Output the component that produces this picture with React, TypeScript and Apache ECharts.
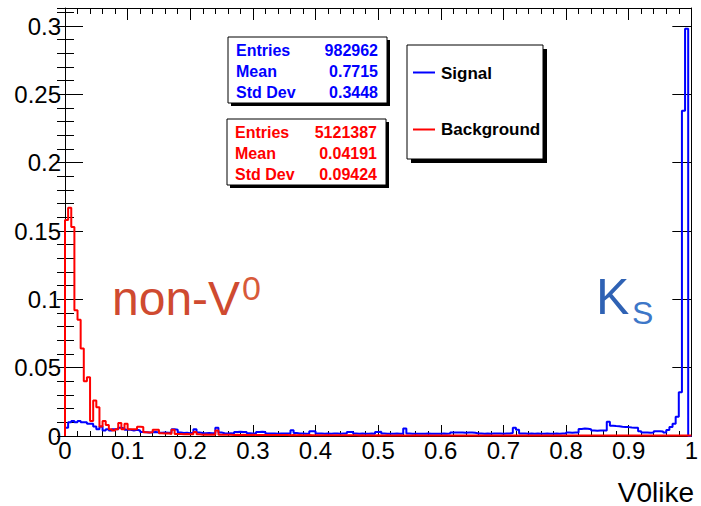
import React, { useEffect, useRef } from "react";
import * as echarts from "echarts";

// ---- Data ----
const X_MIN = 0;
const X_MAX = 1;
const NBINS = 200;
const Y_MAX = 0.3132;

const xTickLabels = ["0", "0.1", "0.2", "0.3", "0.4", "0.5", "0.6", "0.7", "0.8", "0.9", "1"];
const yTickLabels = ["0", "0.05", "0.1", "0.15", "0.2", "0.25", "0.3"];

// Signal (K_S), normalised, 200 bins on [0,1]
const signalValues = [
  0.006, 0.010, 0.011, 0.010, 0.011, 0.010, 0.010, 0.009, 0.009, 0.007,
  0.005, 0.007, 0.004, 0.005, 0.004, 0.005, 0.005, 0.006, 0.0055, 0.0045,
  0.0045, 0.004, 0.0045, 0.004, 0.003, 0.0028, 0.0025, 0.0027, 0.003, 0.0026,
  0.0024, 0.0025, 0.0023, 0.0025, 0.005, 0.0045, 0.0025, 0.0022, 0.0024, 0.0021,
  0.0023, 0.005, 0.0025, 0.0022, 0.002, 0.0022, 0.0021, 0.002, 0.006, 0.0025,
  0.002, 0.0019, 0.0021, 0.0019, 0.003, 0.0031, 0.003, 0.0029, 0.002, 0.0019,
  0.0018, 0.003, 0.0031, 0.0029, 0.0019, 0.0018, 0.0019, 0.0017, 0.0018, 0.0019,
  0.0018, 0.0019, 0.0042, 0.0022, 0.0019, 0.0018, 0.0017, 0.0018, 0.0035, 0.0034,
  0.0019, 0.0018, 0.0017, 0.0018, 0.0017, 0.0019, 0.0018, 0.0017, 0.0018, 0.0019,
  0.003, 0.0029, 0.0018, 0.0017, 0.0018, 0.0017, 0.0016, 0.0018, 0.0017, 0.003,
  0.0031, 0.0018, 0.0017, 0.0016, 0.0017, 0.0018, 0.0016, 0.0017, 0.0055, 0.0018,
  0.0017, 0.0016, 0.0017, 0.0016, 0.0017, 0.0018, 0.0016, 0.0017, 0.0016, 0.0017,
  0.0018, 0.0017, 0.0019, 0.0025, 0.0026, 0.0025, 0.0026, 0.0024, 0.0025, 0.0026,
  0.0024, 0.0019, 0.0018, 0.0017, 0.0018, 0.0017, 0.0018, 0.0019, 0.0018, 0.0017,
  0.0018, 0.0019, 0.0022, 0.006, 0.0045, 0.0019, 0.0018, 0.0017, 0.0018, 0.0017,
  0.0018, 0.0017, 0.0017, 0.0018, 0.0016, 0.0017, 0.0018, 0.0017, 0.0018, 0.0019,
  0.0025, 0.0024, 0.0026, 0.0025, 0.0052, 0.0055, 0.0053, 0.005, 0.004, 0.0039,
  0.0041, 0.004, 0.0041, 0.0105, 0.0075, 0.0073, 0.0072, 0.0067, 0.0066, 0.0065,
  0.0062, 0.006, 0.0061, 0.0034, 0.0026, 0.0025, 0.0024, 0.0026, 0.0034, 0.0035,
  0.0033, 0.0025, 0.0044, 0.0066, 0.009, 0.014, 0.032, 0.238, 0.298, 0.0,
];

// Background (non-V0), normalised, 200 bins on [0,1]
const backgroundValues = [
  0.158, 0.167, 0.153, 0.092, 0.085, 0.064, 0.040, 0.043, 0.011, 0.026,
  0.021, 0.007, 0.011, 0.008, 0.005, 0.004, 0.005, 0.0095, 0.005, 0.009,
  0.005, 0.005, 0.005, 0.0067, 0.0065, 0.0027, 0.0025, 0.0028, 0.0045, 0.0045,
  0.002, 0.0018, 0.002, 0.0015, 0.0045, 0.0015, 0.0014, 0.0013, 0.0014, 0.0012,
  0.0013, 0.003, 0.0012, 0.001, 0.0011, 0.001, 0.0011, 0.001, 0.004, 0.001,
  0.0009, 0.001, 0.0009, 0.0008, 0.0009, 0.0008, 0.0009, 0.0008, 0.0008, 0.0009,
  0.0008, 0.0007, 0.0008, 0.0007, 0.0008, 0.0007, 0.0007, 0.0008, 0.0007, 0.0007,
  0.0007, 0.0006, 0.0007, 0.0006, 0.0007, 0.0006, 0.0006, 0.0007, 0.0006, 0.0006,
  0.0006, 0.0006, 0.0005, 0.0006, 0.0005, 0.0006, 0.0005, 0.0005, 0.0006, 0.0005,
  0.0005, 0.0005, 0.0005, 0.0004, 0.0005, 0.0004, 0.0005, 0.0004, 0.0004, 0.0005,
  0.0004, 0.0004, 0.0005, 0.0004, 0.0004, 0.0004, 0.0005, 0.0004, 0.0004, 0.0004,
  0.0004, 0.0005, 0.0004, 0.0004, 0.0004, 0.0004, 0.0003, 0.0004, 0.0004, 0.0004,
  0.0004, 0.0004, 0.0003, 0.0004, 0.0004, 0.0003, 0.0004, 0.0004, 0.0004, 0.0003,
  0.0004, 0.0003, 0.0004, 0.0004, 0.0003, 0.0004, 0.0003, 0.0004, 0.0003, 0.0004,
  0.0003, 0.0004, 0.0003, 0.0003, 0.0004, 0.0003, 0.0003, 0.0004, 0.0003, 0.0003,
  0.0003, 0.0004, 0.0003, 0.0003, 0.0003, 0.0004, 0.0003, 0.0003, 0.0003, 0.0003,
  0.0003, 0.0003, 0.0004, 0.0003, 0.0003, 0.0003, 0.0003, 0.0003, 0.0004, 0.0003,
  0.0003, 0.0003, 0.0003, 0.0003, 0.0003, 0.0003, 0.0003, 0.0003, 0.0003, 0.0003,
  0.0003, 0.0003, 0.0003, 0.0003, 0.0003, 0.0003, 0.0003, 0.0003, 0.0003, 0.0003,
  0.0003, 0.0003, 0.0003, 0.0003, 0.0003, 0.0003, 0.0003, 0.0003, 0.0003, 0.0003,
];

const seriesNames = ["Signal", "Background"];
const statLabels = ["Entries", "Mean", "Std Dev"];
const signalStats = ["982962", "0.7715", "0.3448"];
const backgroundStats = ["5121387", "0.04191", "0.09424"];
const xAxisTitle = "V0like";

// ---- helpers ----
const binWidth = (X_MAX - X_MIN) / NBINS;
function toSteps(values: number[]) {
  const pts: number[][] = [[X_MIN, 0]];
  values.forEach((v, i) => pts.push([X_MIN + i * binWidth, v]));
  pts.push([X_MAX, values[values.length - 1]]);
  pts.push([X_MAX, 0]);
  return pts;
}

const FONT = '"Liberation Sans", Arial, Helvetica, sans-serif';
const BLUE = "#0000ff";
const RED = "#ff0000";

function matchLabel(v: number, labels: string[]) {
  for (const l of labels) {
    if (Math.abs(parseFloat(l) - v) < 1e-6) return l;
  }
  return "";
}

function txt(x: number, y: number, text: string, fill: string, font: string, align: string, z = 102) {
  return {
    type: "text", z,
    style: { x, y, text, fill, font, textAlign: align, textVerticalAlign: "middle", align, verticalAlign: "middle" },
  };
}

function statsBox(x: number, y: number, w: number, h: number, color: string, values: string[]) {
  const els: any[] = [
    { type: "rect", shape: { x: x + 3, y: y + 3, width: w, height: h }, style: { fill: "#000" }, z: 100 },
    { type: "rect", shape: { x, y, width: w, height: h }, style: { fill: "#fff", stroke: "#000", lineWidth: 1 }, z: 101 },
  ];
  const rowY = [13, 34.5, 55.5];
  statLabels.forEach((lab, i) => {
    els.push(txt(x + 8, y + rowY[i], lab, color, `bold 16px ${FONT}`, "left"));
    els.push(txt(x + w - 9, y + rowY[i], values[i], color, `bold 16px ${FONT}`, "right"));
  });
  return els;
}

export default function App() {
  const ref = useRef<HTMLDivElement>(null);
  useEffect(() => {
    if (!ref.current) return;
    const chart = echarts.init(ref.current, null, { renderer: "svg" });

    const axisBase = {
      type: "value",
      splitLine: { show: false },
      axisLine: { show: true, onZero: false, lineStyle: { color: "#000", width: 1 } },
    };

    const legendX = 407, legendY = 45, legendW = 136, legendH = 114;

    const option: any = {
      animation: false,
      backgroundColor: "#fff",
      grid: { left: 65, top: 8, width: 629, height: 428, containLabel: false },
      xAxis: [
        {
          ...axisBase, position: "bottom", min: X_MIN, max: X_MAX, interval: 0.1,
          axisTick: { inside: true, length: 11, lineStyle: { color: "#000" } },
          minorTick: { show: true, splitNumber: 5, length: 5, lineStyle: { color: "#000" } },
          axisLabel: {
            fontSize: 24, fontFamily: FONT, color: "#000", margin: 2,
            formatter: (v: number) => matchLabel(v, xTickLabels),
          },
        },
        {
          ...axisBase, position: "top", min: X_MIN, max: X_MAX, interval: 0.1,
          axisTick: { inside: true, length: 12, lineStyle: { color: "#000" } },
          minorTick: { show: true, splitNumber: 5, length: 6, lineStyle: { color: "#000" } },
          axisLabel: { show: false },
        },
      ],
      yAxis: [
        {
          ...axisBase, position: "left", min: 0, max: Y_MAX, interval: 0.05,
          axisTick: { inside: true, length: 18, lineStyle: { color: "#000" } },
          axisLabel: {
            fontSize: 24, fontFamily: FONT, color: "#000", margin: 4,
            formatter: (v: number) => matchLabel(v, yTickLabels),
          },
        },
        {
          ...axisBase, position: "left", min: 0, max: Y_MAX, interval: 0.01,
          axisLine: { show: false },
          axisTick: { inside: true, length: 9, lineStyle: { color: "#000" } },
          axisLabel: { show: false },
        },
        {
          ...axisBase, position: "right", min: 0, max: Y_MAX, interval: 0.05,
          axisTick: { inside: true, length: 19, lineStyle: { color: "#000" } },
          axisLabel: { show: false },
        },
        {
          ...axisBase, position: "right", min: 0, max: Y_MAX, interval: 0.01,
          axisLine: { show: false },
          axisTick: { inside: true, length: 8, lineStyle: { color: "#000" } },
          axisLabel: { show: false },
        },
      ],
      series: [
        {
          name: seriesNames[0], type: "line", step: "end", symbol: "none", clip: false,
          xAxisIndex: 0, yAxisIndex: 0,
          lineStyle: { color: BLUE, width: 2 }, itemStyle: { color: BLUE },
          data: toSteps(signalValues), z: 3,
        },
        {
          name: seriesNames[1], type: "line", step: "end", symbol: "none", clip: false,
          xAxisIndex: 0, yAxisIndex: 0,
          lineStyle: { color: RED, width: 2 }, itemStyle: { color: RED },
          data: toSteps(backgroundValues), z: 4,
        },
      ],
      graphic: [
        ...statsBox(228, 37, 159, 66, BLUE, signalStats),
        ...statsBox(227, 119, 159, 66, RED, backgroundStats),
        { type: "rect", z: 100, shape: { x: legendX + 4, y: legendY + 4, width: legendW, height: legendH }, style: { fill: "#000" } },
        { type: "rect", z: 101, shape: { x: legendX, y: legendY, width: legendW, height: legendH }, style: { fill: "#fff", stroke: "#000", lineWidth: 1 } },
        { type: "line", z: 102, shape: { x1: 413, y1: 72.5, x2: 435, y2: 72.5 }, style: { stroke: BLUE, lineWidth: 2 } },
        { type: "line", z: 102, shape: { x1: 413, y1: 129.5, x2: 435, y2: 129.5 }, style: { stroke: RED, lineWidth: 2 } },
        txt(441, 73, seriesNames[0], "#000", `bold 17px ${FONT}`, "left"),
        txt(441, 129.5, seriesNames[1], "#000", `bold 17px ${FONT}`, "left"),
        // annotations
        txt(112, 298, "non-V", "#cf4a30", `48px ${FONT}`, "left", 50),
        txt(242, 288, "0", "#d85a3a", `34px ${FONT}`, "left", 50),
        txt(596, 297, "K", "#2f62b4", `50px ${FONT}`, "left", 50),
        txt(632, 313, "S", "#3d77c8", `32px ${FONT}`, "left", 50),
        // axis title
        txt(694, 492, xAxisTitle, "#000", `28px ${FONT}`, "right", 50),
      ],
    };
    chart.setOption(option);
    return () => chart.dispose();
  }, []);

  return (
    <div
      ref={ref}
      style={{ position: "fixed", left: 0, top: 0, width: 701, height: 506, background: "#fff" }}
    />
  );
}
